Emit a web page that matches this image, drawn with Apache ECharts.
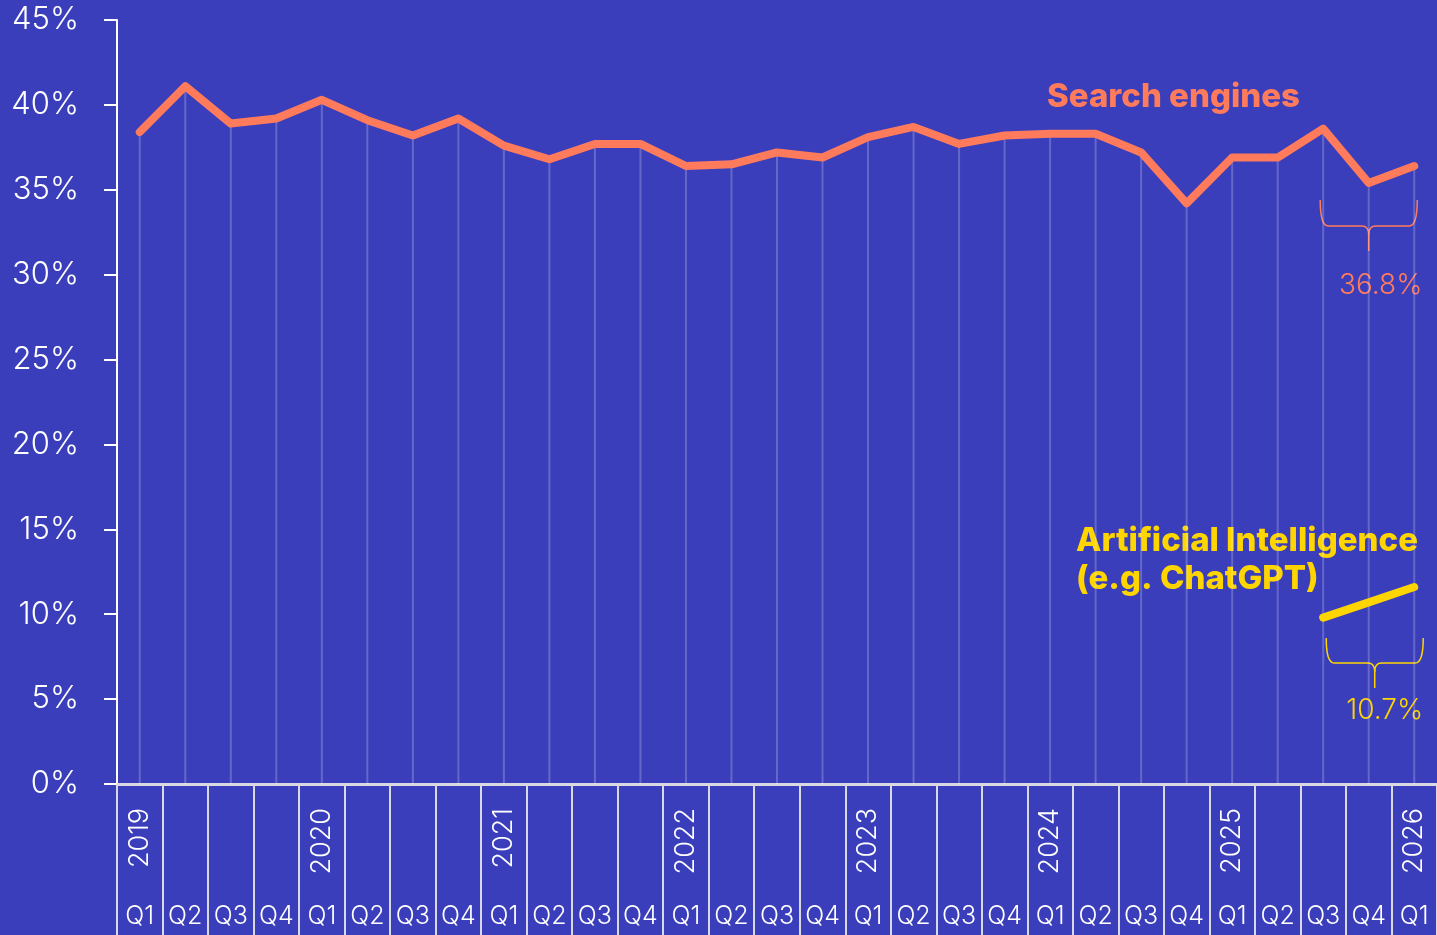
<!DOCTYPE html>
<html>
<head>
<meta charset="utf-8">
<script src="https://cdn.jsdelivr.net/npm/echarts@6/dist/echarts.min.js"></script>
<style>
  html, body { margin: 0; padding: 0; background: #3a3eba; }
  #chart { width: 1437px; height: 935px; }
</style>
</head>
<body>
<div id="chart"></div>
<script>
// quarters Q1 2019 .. Q1 2026
const quarters = ['Q1','Q2','Q3','Q4','Q1','Q2','Q3','Q4','Q1','Q2','Q3','Q4','Q1','Q2','Q3','Q4',
  'Q1','Q2','Q3','Q4','Q1','Q2','Q3','Q4','Q1','Q2','Q3','Q4','Q1']
const years = ['2019','','','','2020','','','','2021','','','','2022','','','',
  '2023','','','','2024','','','','2025','','','','2026']
const searchEngines = [38.4, 41.1, 38.9, 39.2, 40.3, 39.1, 38.2, 39.2, 37.6, 36.8, 37.7, 37.7,
  36.4, 36.5, 37.2, 36.9, 38.1, 38.7, 37.7, 38.2, 38.3, 38.3, 37.2, 34.2, 36.9, 36.9, 38.6, 35.4, 36.4]
const ai = [null, null, null, null, null, null, null, null, null, null, null, null,
  null, null, null, null, null, null, null, null, null, null, null, null, null, null, 9.8, 10.7, 11.6]
const yTicks = [0, 5, 10, 15, 20, 25, 30, 35, 40, 45]
const searchAvg = '36.8%'
const aiAvg = '10.7%'

const coral = '#ff7b5c'
const yellow = '#ffd500'
const font = 'Inter'

const chart = echarts.init(document.getElementById('chart'))
chart.setOption({
  backgroundColor: '#3a3eba',
  animation: false,
  grid: { left: 117, right: -2, top: 20, bottom: 151 },
  xAxis: [
    {
      type: 'category',
      data: quarters,
      axisLine: { show: true, lineStyle: { color: '#d9d9e3', width: 3 } },
      axisTick: { show: true, length: 151, lineStyle: { color: '#d9d9e3', width: 2 } },
      axisLabel: { color: '#fff', fontSize: 25, fontWeight: 300, fontFamily: font, margin: 120, interval: 0 },
      splitLine: { show: false }
    },
    {
      type: 'category',
      position: 'bottom',
      data: years,
      axisLine: { show: false },
      axisTick: { show: false },
      axisLabel: { color: '#fff', fontSize: 27, fontWeight: 300, fontFamily: font, rotate: 90, margin: 24, interval: 0 }
    }
  ],
  yAxis: {
    type: 'value',
    min: yTicks[0],
    max: yTicks[yTicks.length - 1],
    interval: 5,
    axisLine: { show: true, lineStyle: { color: '#fff', width: 2 } },
    axisTick: { show: true, length: 13, lineStyle: { color: '#fff', width: 2 } },
    axisLabel: { color: '#fff', fontSize: 31, fontWeight: 300, fontFamily: font, margin: 38, formatter: '{value}%' },
    splitLine: { show: false }
  },
  series: [
    {
      name: 'drop',
      type: 'bar',
      data: searchEngines,
      barWidth: 2,
      itemStyle: { color: 'rgba(255,255,255,0.22)' },
      silent: true,
      z: 1
    },
    {
      name: 'Search engines',
      type: 'line',
      data: searchEngines,
      showSymbol: false,
      lineStyle: { color: coral, width: 8, cap: 'round', join: 'round' },
      z: 3
    },
    {
      name: 'Artificial Intelligence',
      type: 'line',
      data: ai,
      showSymbol: false,
      lineStyle: { color: yellow, width: 8, cap: 'round', join: 'round' },
      z: 3
    }
  ]
})

// curly brace as a polyline: quadratic corners sampled
function quad (p0, c, p1, out) {
  for (let i = 1; i <= 8; i++) {
    const t = i / 8
    out.push([
      (1 - t) * (1 - t) * p0[0] + 2 * (1 - t) * t * c[0] + t * t * p1[0],
      (1 - t) * (1 - t) * p0[1] + 2 * (1 - t) * t * c[1] + t * t * p1[1]
    ])
  }
}
function braceHalves (x1, x2, yTop, yMid, yTip) {
  const xm = (x1 + x2) / 2
  const left = [[x1, yTop]]
  quad([x1, yTop], [x1, yMid], [x1 + 8, yMid], left)
  left.push([xm - 7, yMid])
  quad([xm - 7, yMid], [xm, yMid], [xm, yMid + 9], left)
  left.push([xm, yTip])
  const right = [[x2, yTop]]
  quad([x2, yTop], [x2, yMid], [x2 - 8, yMid], right)
  right.push([xm + 7, yMid])
  quad([xm + 7, yMid], [xm, yMid], [xm, yMid + 9], right)
  return [left, right]
}
const n = quarters.length
const pA = chart.convertToPixel({ xAxisIndex: 0, yAxisIndex: 0 }, [n - 3, 0])
const pB = chart.convertToPixel({ xAxisIndex: 0, yAxisIndex: 0 }, [n - 1, 0])
const x1 = pA[0], x2 = pB[0]
const sb = braceHalves(x1 - 3, x2 + 3, 200, 226, 251)
const ab = braceHalves(x1 + 3, x2 + 9, 638, 663, 688)

const graphics = [
  {
    type: 'text', x: 1047, y: 97,
    style: { text: 'Search engines', fill: coral, font: '800 33px ' + font, textVerticalAlign: 'middle' }
  },
  {
    type: 'text', x: 1076, y: 541,
    style: { text: 'Artificial Intelligence', fill: yellow, font: '800 33px ' + font, textVerticalAlign: 'middle' }
  },
  {
    type: 'text', x: 1076, y: 579,
    style: { text: '(e.g. ChatGPT)', fill: yellow, font: '800 33px ' + font, textVerticalAlign: 'middle' }
  },
  {
    type: 'text', x: (x1 + x2) / 2 + 12, y: 286,
    style: { text: searchAvg, fill: coral, font: '300 28px ' + font, textAlign: 'center', textVerticalAlign: 'middle' }
  },
  {
    type: 'text', x: (x1 + x2) / 2 + 16, y: 711,
    style: { text: aiAvg, fill: yellow, font: '300 28px ' + font, textAlign: 'center', textVerticalAlign: 'middle' }
  }
]
sb.forEach(function (pts) {
  graphics.push({ type: 'polyline', shape: { points: pts }, style: { stroke: coral, lineWidth: 1.5, fill: null } })
})
ab.forEach(function (pts) {
  graphics.push({ type: 'polyline', shape: { points: pts }, style: { stroke: yellow, lineWidth: 1.5, fill: null } })
})
chart.setOption({ graphic: graphics })
</script>
</body>
</html>
